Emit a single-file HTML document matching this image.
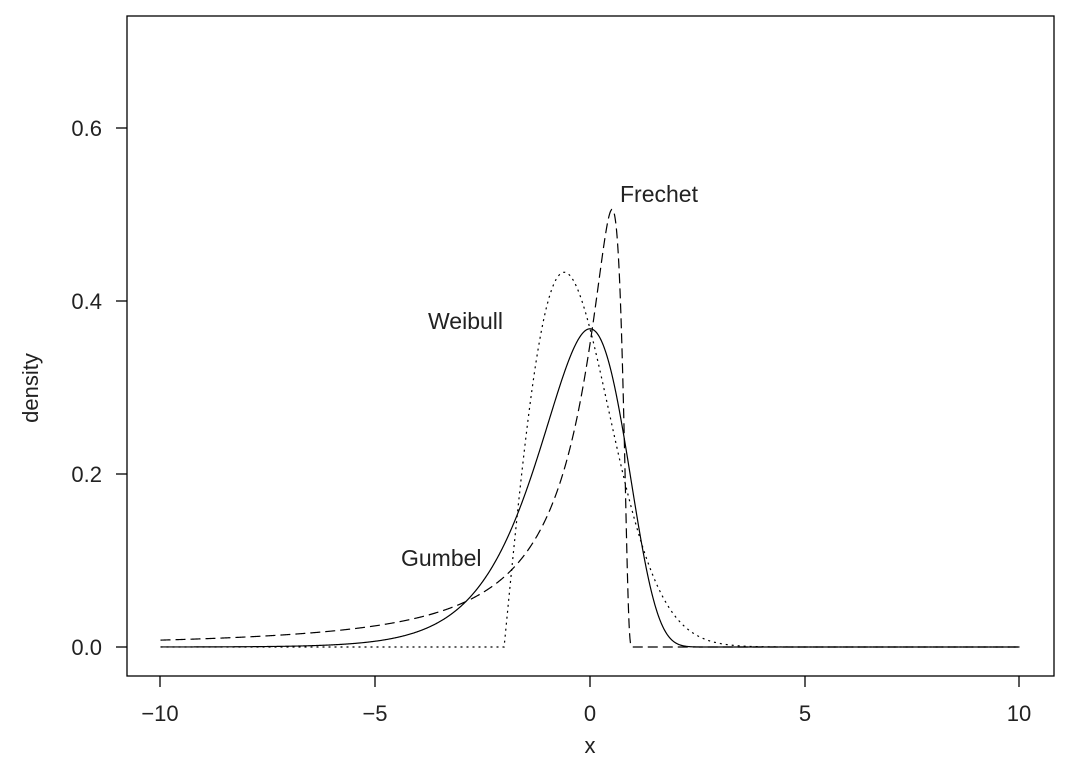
<!DOCTYPE html>
<html><head><meta charset="utf-8"><style>
html,body{margin:0;padding:0;background:#fff;}
svg{display:block;font-family:"Liberation Sans",sans-serif;fill:#222;}
</style></head><body>
<svg id="s" width="1078" height="771" xmlns="http://www.w3.org/2000/svg">
<rect x="127" y="16" width="927" height="660" fill="none" stroke="#000" stroke-width="1.3"/>
<g stroke="#000" stroke-width="1.3">
<line x1="160" y1="676" x2="160" y2="687"/><line x1="375" y1="676" x2="375" y2="687"/>
<line x1="590" y1="676" x2="590" y2="687"/><line x1="805" y1="676" x2="805" y2="687"/>
<line x1="1019" y1="676" x2="1019" y2="687"/>
<line x1="116" y1="647" x2="127" y2="647"/><line x1="116" y1="474" x2="127" y2="474"/>
<line x1="116" y1="301" x2="127" y2="301"/><line x1="116" y1="128" x2="127" y2="128"/>
</g>
<g font-size="22" text-anchor="middle">
<text x="160" y="721">−10</text><text x="375" y="721">−5</text><text x="590" y="721">0</text>
<text x="805" y="721">5</text><text x="1019" y="721">10</text>
<text x="590" y="753">x</text>
</g>
<g font-size="22" text-anchor="end">
<text x="102" y="655">0.0</text><text x="102" y="482">0.2</text>
<text x="102" y="309">0.4</text><text x="102" y="136">0.6</text>
</g>
<text x="38" y="388" font-size="22" text-anchor="middle" transform="rotate(-90 38 388)">density</text>
<g font-size="23">
<text x="620" y="202">Frechet</text>
<text x="428" y="329">Weibull</text>
<text x="401" y="566">Gumbel</text>
</g>
<g id="c" fill="none" stroke="#000" stroke-width="1.2"></g>
</svg>
<script>
var X=function(x){return 590+x*42.95},Y=function(y){return 647-y*865};
function path(f,d){var p="";for(var i=0;i<=2000;i++){var x=-10+i*0.01;p+=(i?"L":"M")+X(x).toFixed(2)+" "+Y(f(x)).toFixed(2);}
var e=document.createElementNS("http://www.w3.org/2000/svg","path");e.setAttribute("d",p);if(d)e.setAttribute("stroke-dasharray",d);document.getElementById("c").appendChild(e);}
path(function(x){return Math.exp(x-Math.exp(x));});
path(function(x){var t=x+2;if(t<=0)return 0;var l=1.98;return 2*t/(l*l)*Math.exp(-(t/l)*(t/l));},"2,4");
path(function(x){var s=1.07,t=1.05-x;if(t<=0.02)return 0;return s/(t*t)*Math.exp(-s/t);},"10,5");
</script>
</body></html>
